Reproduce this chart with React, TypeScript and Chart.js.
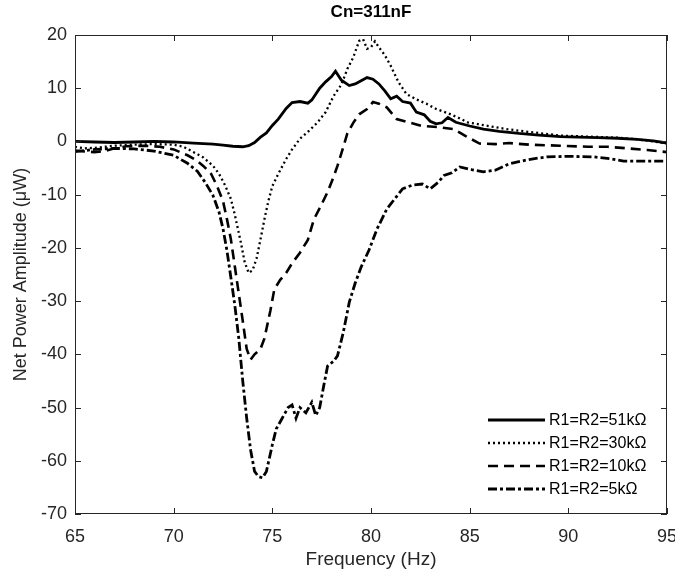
import React, { useEffect, useRef } from "react";
import { Chart, registerables } from "chart.js";

Chart.register(...registerables);

const chartTitle = "Cn=311nF";
const xTitle = "Frequency (Hz)";
const yTitle = "Net Power Amplitude (μW)";
const seriesNames = ["R1=R2=51kΩ", "R1=R2=30kΩ", "R1=R2=10kΩ", "R1=R2=5kΩ"];

const f51 = [65,66,67,68,69,70,71,72,72.5,73,73.5,73.8,74.1,74.4,74.7,75,75.3,75.7,76,76.4,76.8,77,77.4,77.7,78,78.2,78.5,78.9,79.2,79.5,79.8,80.1,80.4,80.7,81,81.3,81.6,82,82.3,82.7,83,83.3,83.6,83.9,84.3,85,85.7,86.5,87.5,88.5,89.6,90.5,91.5,92.5,93.5,94.3,95];
const v51 = [0,-0.1,-0.2,-0.1,0,-0.1,-0.3,-0.5,-0.7,-0.9,-1,-0.8,-0.2,0.8,1.6,3,4.2,6.2,7.3,7.5,7.2,7.8,10,11.2,12.2,13.2,11.5,10.5,10.8,11.4,12,11.7,10.8,9.5,8,8.5,7.5,7.2,5.5,5,3.8,3.3,3.5,4.5,3.6,2.9,2.3,1.9,1.5,1.2,0.9,0.8,0.7,0.6,0.4,0.1,-0.3];

const f30 = [65,65.5,66,67,68,69,70,70.5,71,71.5,72,72.3,72.6,72.9,73.1,73.4,73.6,73.8,74,74.2,74.4,74.6,74.8,75,75.3,75.7,76,76.4,76.8,77.3,77.7,78.1,78.5,78.8,79.1,79.4,79.6,79.8,80,80.2,80.4,80.7,81,81.4,81.8,82.3,82.8,83.3,83.9,84.4,84.9,85.8,86.9,88,89.6,91,92.5,93.5,94.3,95];
const v30 = [-1,-1.3,-1.2,-0.8,-0.6,-0.5,-0.6,-1,-2,-3,-4.6,-6.1,-8.2,-10.8,-13.8,-18.9,-22.7,-24.7,-24.2,-22,-18.4,-14.6,-11.2,-8.4,-6.1,-3.3,-1.5,0.5,1.8,3.6,5.5,8.5,10.7,13.6,15.8,18.9,19.2,17.4,17.7,18.8,17.7,16.2,14.2,11.1,8.9,7.9,7.1,6.1,5.3,4.5,3.6,3,2.3,1.8,1.1,0.9,0.7,0.4,0,-0.4];

const f10 = [65,65.5,66,66.5,67,67.6,68.5,69.3,70,70.7,71.1,71.5,71.9,72.2,72.5,72.7,72.9,73.1,73.3,73.5,73.7,73.9,74.1,74.4,74.6,74.9,75.1,75.4,75.7,76,76.4,76.8,77.1,77.5,77.8,78.1,78.3,78.6,78.8,79.1,79.4,79.8,80.1,80.4,80.8,81.3,82,82.6,83.4,84.2,84.8,85.5,86.3,87,88,89.6,91,92,93,94,95];
const v10 = [-1.7,-1.9,-2,-1.8,-1.3,-0.9,-0.8,-1,-1.5,-2.6,-3.4,-4.6,-6.1,-8.4,-11.2,-14.6,-18.4,-23.5,-28.6,-33.7,-39,-41,-40,-39,-37,-31.8,-27.8,-26,-24.7,-22.9,-20.9,-18.5,-14.7,-11.8,-9.5,-6.7,-4.6,-1,1.5,3.5,5.1,6.1,7.4,7.1,6.4,4.2,3.5,2.9,2.7,2.3,1,-0.4,-0.5,-0.3,-0.6,-0.8,-1,-1,-1.3,-1.6,-2];

const f5 = [65,65.5,66,67,68,69,70,70.7,71.2,71.6,72,72.3,72.5,72.7,72.9,73.1,73.3,73.5,73.7,73.9,74.1,74.3,74.5,74.7,75,75.2,75.5,75.8,76,76.2,76.4,76.7,77,77.2,77.4,77.6,77.8,78.1,78.3,78.6,78.9,79.2,79.5,79.9,80.3,80.8,81.2,81.6,82.1,82.6,83,83.4,83.7,84.1,84.5,85.1,85.7,86.3,87,88,88.9,90,91.3,92.2,92.8,94,95];
const v5 = [-1.9,-1.7,-1.5,-1.3,-1.4,-1.8,-2.6,-4.1,-5.6,-7.7,-10.2,-13.3,-16.4,-20.5,-25.6,-30.8,-37,-45,-52,-58,-62,-63,-63.2,-62,-57,-54,-52,-50,-49.5,-52,-50,-51,-49,-51.5,-50,-46,-42.2,-41.3,-40.3,-35.8,-30.2,-26.6,-23.6,-20.4,-16.5,-12.7,-10.8,-8.9,-8.2,-8,-8.9,-7.7,-6.4,-5.9,-4.8,-5.3,-5.7,-5.4,-4.2,-3.4,-2.9,-2.8,-2.9,-3.3,-3.7,-3.7,-3.7];

const xMin = 65, xMax = 95, xStep = 5;
const yMin = -70, yMax = 20, yStep = 10;

const FONT = "'Liberation Sans', Arial, sans-serif";
const TEXT = "#262626";

const styles = [
  { width: 2.8, dash: [] as number[] },
  { width: 2.3, dash: [2, 3] },
  { width: 2.6, dash: [10, 6] },
  { width: 2.8, dash: [9, 3, 3, 3] },
];

const toPts = (fs: number[], vs: number[]) => fs.map((f, i) => ({ x: f, y: vs[i] }));

const framePlugin = {
  id: "frame",
  afterDraw(chart: any) {
    const { ctx, chartArea: a, scales } = chart;
    ctx.save();
    ctx.strokeStyle = TEXT;
    ctx.lineWidth = 1;
    ctx.setLineDash([]);
    ctx.strokeRect(a.left + 0.5, a.top + 0.5, a.right - a.left - 1, a.bottom - a.top - 1);
    const tl = 6;
    ctx.beginPath();
    for (let v = xMin; v <= xMax; v += xStep) {
      const x = Math.round(scales.x.getPixelForValue(v)) + 0.5;
      ctx.moveTo(x, a.bottom);
      ctx.lineTo(x, a.bottom - tl);
      ctx.moveTo(x, a.top);
      ctx.lineTo(x, a.top + tl);
    }
    for (let v = yMin; v <= yMax; v += yStep) {
      const y = Math.round(scales.y.getPixelForValue(v)) + 0.5;
      ctx.moveTo(a.left, y);
      ctx.lineTo(a.left + tl, y);
      ctx.moveTo(a.right, y);
      ctx.lineTo(a.right - tl, y);
    }
    ctx.stroke();

    // title
    ctx.fillStyle = "#000";
    ctx.font = `bold 17px ${FONT}`;
    ctx.textAlign = "center";
    ctx.textBaseline = "middle";
    ctx.fillText(chartTitle, (a.left + a.right) / 2, 12);

    // legend
    ctx.font = `16px ${FONT}`;
    ctx.textAlign = "left";
    const x0 = a.right - 179;
    const x1 = a.right - 122;
    const tx = a.right - 118;
    for (let i = 0; i < seriesNames.length; i++) {
      const y = a.bottom - 94 + i * 23;
      ctx.strokeStyle = "#000";
      ctx.lineWidth = styles[i].width;
      ctx.setLineDash(styles[i].dash);
      ctx.beginPath();
      ctx.moveTo(x0, y);
      ctx.lineTo(x1, y);
      ctx.stroke();
      ctx.setLineDash([]);
      ctx.fillStyle = "#000";
      ctx.fillText(seriesNames[i], tx, y + 1);
    }
    ctx.restore();
  },
};

export default function App() {
  const ref = useRef<HTMLCanvasElement | null>(null);
  useEffect(() => {
    if (!ref.current) return;
    const series = [toPts(f51, v51), toPts(f30, v30), toPts(f10, v10), toPts(f5, v5)];
    const chart = new Chart(ref.current, {
      type: "line",
      data: {
        datasets: series.map((d, i) => ({
          label: seriesNames[i],
          data: d,
          borderColor: "#000",
          borderWidth: styles[i].width,
          borderDash: styles[i].dash,
          pointRadius: 0,
          tension: 0,
          fill: false,
        })),
      },
      options: {
        animation: false,
        responsive: true,
        maintainAspectRatio: false,
        layout: { padding: { top: 35, right: 8, left: 0, bottom: 0 } },
        plugins: { legend: { display: false }, tooltip: { enabled: false }, title: { display: false } },
        scales: {
          x: {
            type: "linear",
            min: xMin,
            max: xMax,
            grid: { display: false, drawTicks: false },
            border: { display: false },
            ticks: { stepSize: xStep, padding: 12, color: TEXT, font: { family: FONT, size: 18 } },
            title: { display: true, text: xTitle, color: TEXT, font: { family: FONT, size: 19 }, padding: { top: 0, bottom: 3 } },
            afterFit: (s: any) => { s.height = 60; s.paddingLeft = 0; s.paddingRight = 0; },
          },
          y: {
            type: "linear",
            min: yMin,
            max: yMax,
            grid: { display: false, drawTicks: false },
            border: { display: false },
            ticks: { stepSize: yStep, padding: 8, color: TEXT, font: { family: FONT, size: 18 } },
            title: { display: true, text: yTitle, color: TEXT, font: { family: FONT, size: 18 }, padding: { top: 10, bottom: 0 } },
            afterFit: (s: any) => { s.width = 75; s.paddingTop = 0; s.paddingBottom = 0; },
          },
        },
      },
      plugins: [framePlugin],
    });
    return () => chart.destroy();
  }, []);
  return (
    <div style={{ position: "fixed", left: 0, top: 0, width: 675, height: 574, background: "#fff" }}>
      <canvas ref={ref} />
    </div>
  );
}
